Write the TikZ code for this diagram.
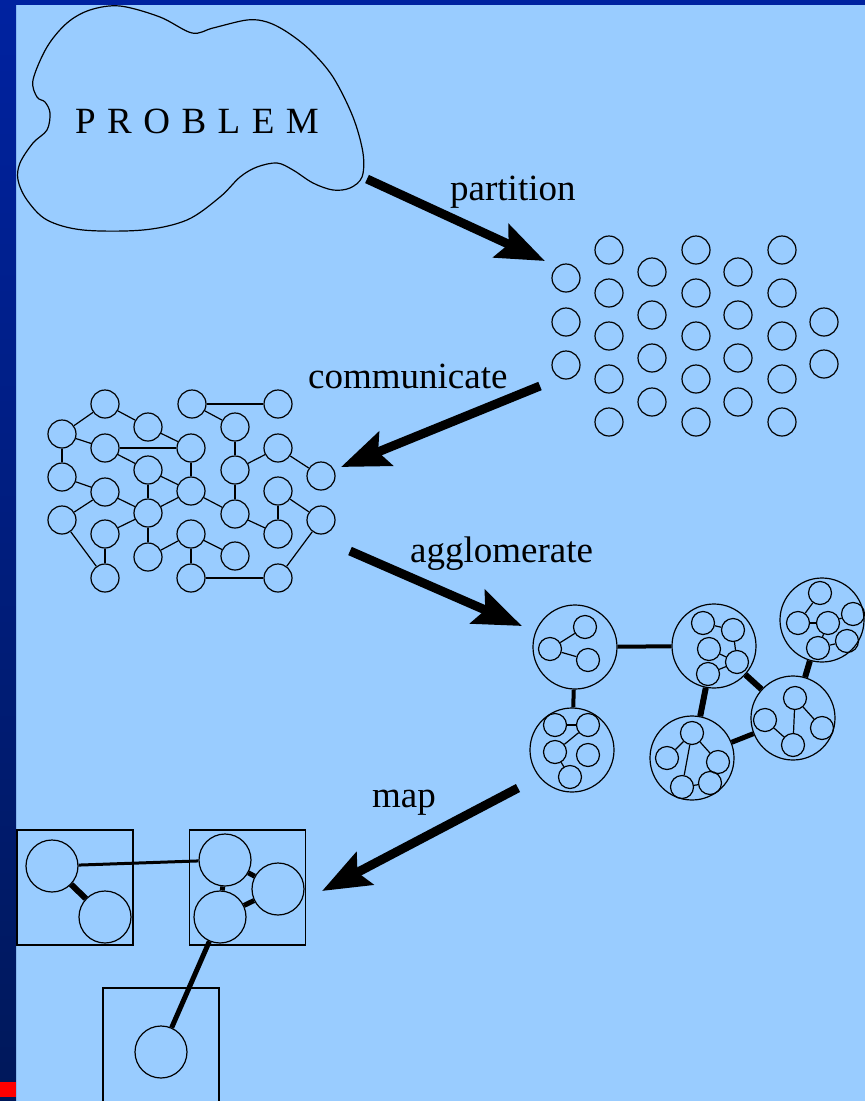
\documentclass[tikz,border=0pt]{standalone}
\usepackage{fontspec}
\setmainfont{Liberation Serif}
\newfontfamily\probfont[LetterSpace=31]{Liberation Serif}
\usetikzlibrary{arrows.meta}
\definecolor{slideCol}{RGB}{153,204,255}
\definecolor{barCol}{RGB}{0,34,160}
\definecolor{barDark}{RGB}{0,24,90}
\definecolor{markCol}{RGB}{255,0,0}
\tikzset{
  task/.style={draw,circle,line width=1.2pt,minimum size=28pt,inner sep=0pt},
  sub/.style={task,minimum size=23pt},
  clus/.style={task,minimum size=84pt},
  pc/.style={task,minimum size=52pt},
  proc/.style={draw,line width=1.3pt,minimum width=116pt,minimum height=115pt,inner sep=0pt},
  chan/.style={line width=1.2pt},
  link/.style={line width=#1},
  link/.default=5pt,
  bigflow/.style={-{Stealth[length=48pt,width=36pt,inset=8pt]},line width=9pt},
  lab/.style={anchor=base west,inner sep=0pt,font=\fontsize{37}{40}\selectfont},
}

\begin{document}
\begin{tikzpicture}[x=1pt,y=-1pt]
  \useasboundingbox (0,0) rectangle (865,1101);
  \clip (0,0) rectangle (865,1101);
  % slide background
  \fill[slideCol] (0,0) rectangle (865,1101);
  \fill[barCol] (0,0) rectangle (865,5);
  \shade[top color=barCol,bottom color=barDark] (0,0) rectangle (16,1101);
  \fill[markCol] (0,1082) rectangle (16,1097);

  % the problem
  \draw[line width=1.2pt] plot[smooth cycle,tension=0.55] coordinates {
    (120,6) (160,17) (192,33) (213,28) (247,20) (267,22) (287,32) (310,50)
    (333,77) (353,117) (363,153) (362,177) (350,188) (333,190) (313,183)
    (293,170) (277,163) (257,167) (240,177) (220,197) (187,220) (143,230)
    (83,230) (47,220) (27,200) (18,180) (20,163) (33,143) (47,130) (50,113)
    (45,102) (37,97) (33,80) (47,47) (67,23) (90,10)};
  \node[anchor=base west,inner sep=0pt,font=\probfont\fontsize{37}{37}\selectfont] (prob) at (75,133) {PROBLEM};

  % partition: fine-grained tasks, column by column
  \foreach \c/\x/\ys in {1/566/{278,322,365},2/609/{250,293,336,379,422},
      3/652/{272,315,358,402},4/696/{250,293,336,379,422},
      5/738/{272,315,358,402},6/782/{250,293,336,379,422},7/824/{322,364}}
    \foreach \y [count=\r] in \ys
      \node[task] (p\c-\r) at (\x,\y) {};

  % communicate: tasks and channels
  \foreach \n/\x/\y in {A/105/404,B/148/427,C/62/434,D/105/448,E/192/404,F/278/404,
      G/235/427,H/191/448,I/278/448,J/62/477,K/148/470,L/235/470,M/321/476,
      N/105/492,O/191/491,P/278/491,Q/62/520,R/148/513,S/235/514,T/321/520,
      U/105/534,V/191/534,W/278/534,X/148/557,Y/235/556,Z/105/578,AA/191/578,AB/278/578}
    \node[task] (t\n) at (\x,\y) {};
  \foreach \a/\b in {A/C,A/B,C/D,C/J,B/H,D/H,D/K,E/F,E/G,G/L,H/O,L/I,I/M,L/S,
      K/O,K/R,J/N,N/R,N/Q,O/R,O/S,P/W,P/T,S/W,R/X,R/U,U/Z,Q/Z,X/V,V/Y,V/AA,AA/AB,T/AB}
    \draw[chan] (t\a) -- (t\b);

  % agglomerate: clusters of tasks
  \foreach \n/\x/\y in {g1/575/647,g2/572/750,g3/714/646,g4/822/620,g5/793/718,g6/692/758}
    \node[clus] (\n) at (\x,\y) {};
  \foreach \n/\x/\y in {g1a/585/627,g1b/550/649,g1c/588/660,
      g2a/555/725,g2b/588/725,g2c/555/752,g2d/588/755,g2e/570/777,
      g3a/703/623,g3b/733/630,g3c/709/649,g3d/737/662,g3e/708/674,
      g4a/820/593,g4b/853/614,g4c/798/623,g4d/828/623,g4e/847/641,g4f/818/648,
      g5a/795/698,g5b/765/720,g5c/822/728,g5d/793/745,
      g6a/692/733,g6b/667/758,g6c/718/762,g6d/682/787,g6e/710/783}
    \node[sub] (\n) at (\x,\y) {};
  \foreach \a/\b in {g1a/g1b,g1b/g1c,g2a/g2b,g2b/g2c,g2c/g2e,
      g3a/g3b,g3b/g3d,g3c/g3d,g3e/g3d,g4a/g4c,g4c/g4d,g4d/g4b,g4d/g4f,g4f/g4e,
      g5a/g5d,g5b/g5d,g5a/g5c,g6a/g6b,g6a/g6d,g6a/g6c,g6d/g6e,g6c/g6e}
    \draw[chan] (\a) -- (\b);
  \draw[link=4pt] (g1) -- (g3);
  \draw[link=4pt] (g1) -- (g2);
  \draw[link=6pt] (g3) -- (g6);
  \draw[link=6pt] (g3) -- (g5);
  \draw[link] (g6) -- (g5);
  \draw[link=6pt] (g4) -- (g5);

  % map: clusters onto processors
  \node[proc] (m1) at (75,887.5) {};
  \node[proc] (m2) at (247.5,887.5) {};
  \node[proc,minimum height=126pt] (m3) at (161,1051) {};
  \foreach \n/\x/\y in {q1/52/866,q2/105/917,q3/225/860,q4/278/889,q5/220/917,q6/161/1052}
    \node[pc] (\n) at (\x,\y) {};
  \draw[link=3pt] (q1) -- (q3);
  \draw[link=6pt] (q1) -- (q2);
  \draw[link] (q3) -- (q5);
  \draw[link] (q3) -- (q4);
  \draw[link] (q4) -- (q5);
  \draw[link] (q5) -- (q6);

  % steps
  \coordinate (aPs) at (367,179); \coordinate (aPe) at (545,261);
  \coordinate (aCs) at (540,386); \coordinate (aCe) at (341,467);
  \coordinate (aAs) at (350,551); \coordinate (aAe) at (522,626);
  \coordinate (aMs) at (518,788); \coordinate (aMe) at (322,891);
  \draw[bigflow] (aPs) -- (aPe);
  \draw[bigflow] (aCs) -- (aCe);
  \draw[bigflow] (aAs) -- (aAe);
  \draw[bigflow] (aMs) -- (aMe);
  \node[lab] (lpart) at (450,200) {partition};
  \node[lab] (lcomm) at (308,388) {communicate};
  \node[lab] (lagg) at (410,562) {agglomerate};
  \node[lab] (lmap) at (372,807) {map};
\end{tikzpicture}
\end{document}
